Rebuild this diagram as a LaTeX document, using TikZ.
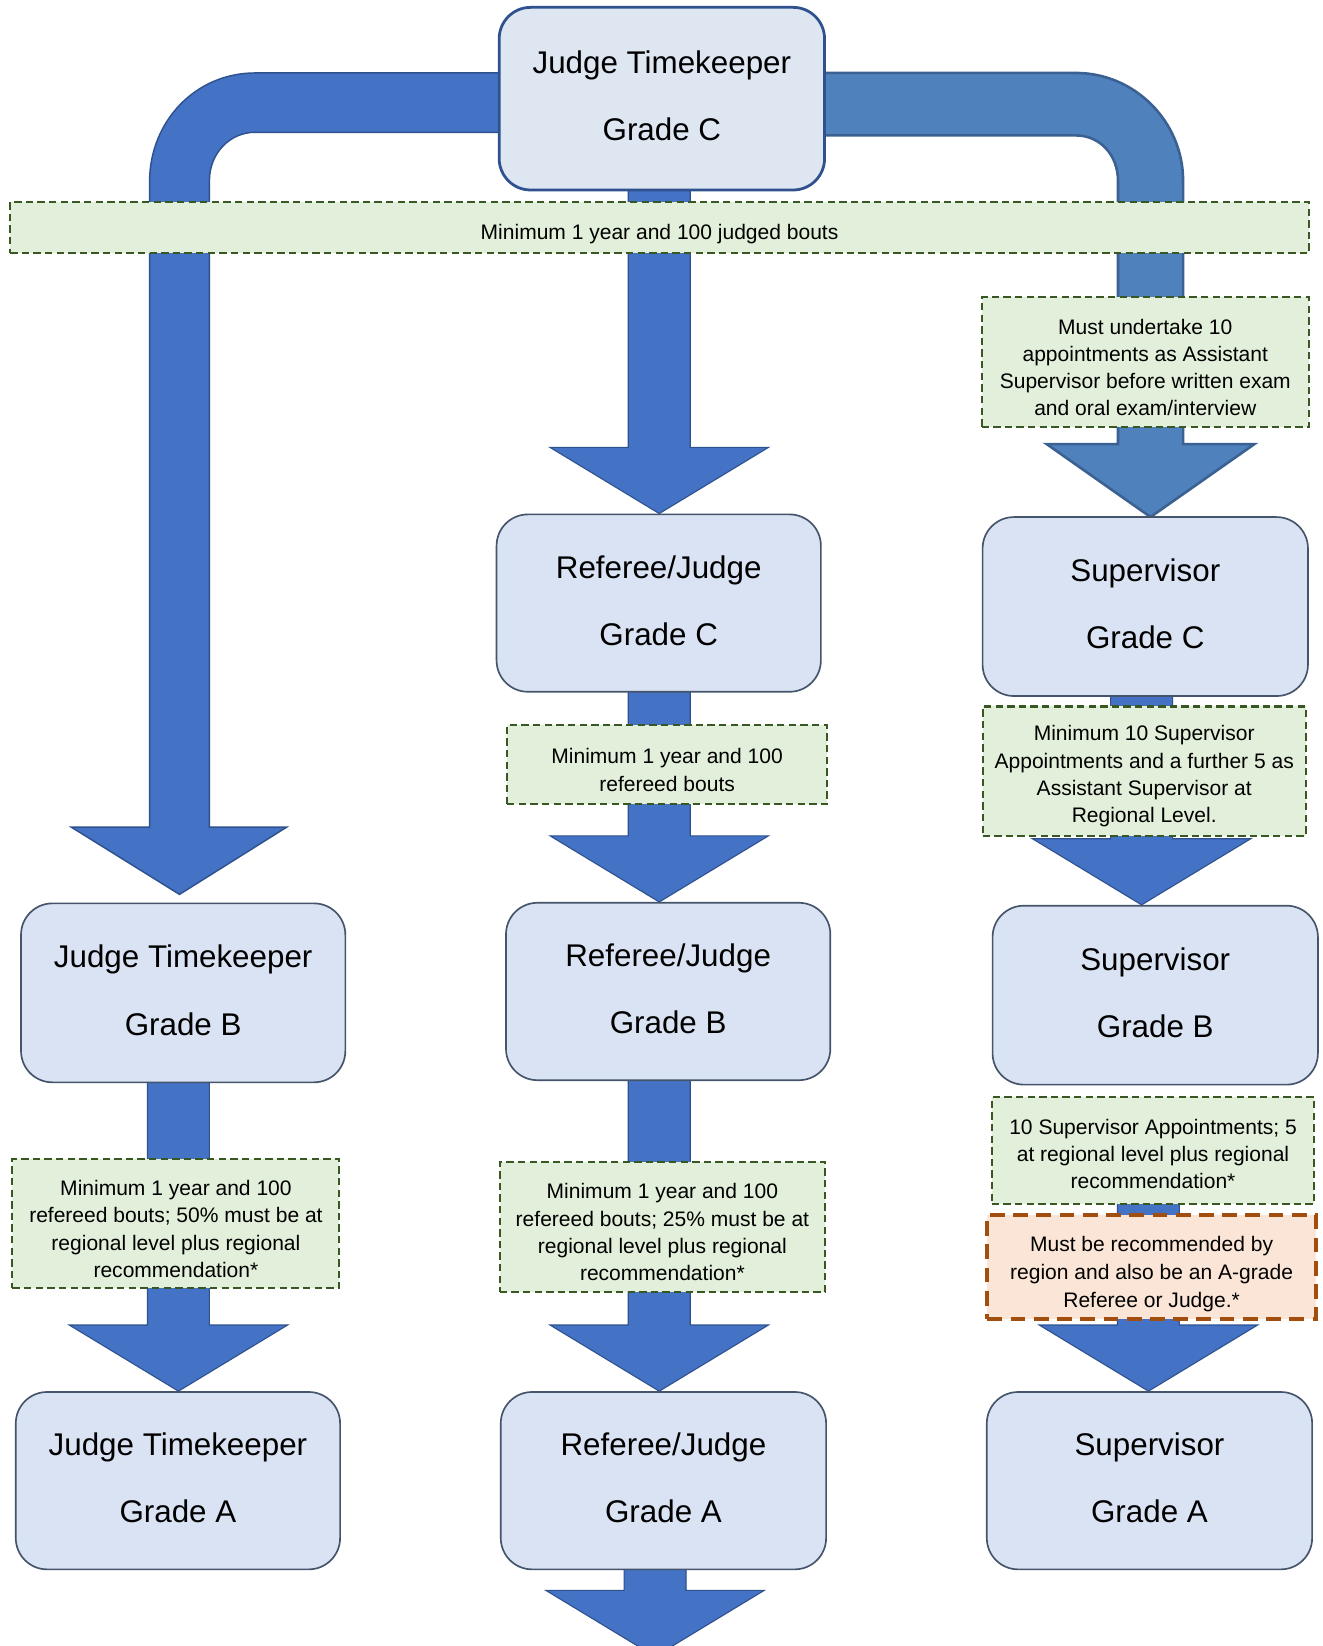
\documentclass[tikz,border=0pt]{standalone}
\usepackage{fontspec}
\setmainfont{Liberation Sans}
\usetikzlibrary{calc}

\pgfdeclarelayer{background}
\pgfsetlayers{background,main}

\definecolor{boxfill}{HTML}{DAE3F3}
\definecolor{boxline}{HTML}{44546A}
\definecolor{topfill}{HTML}{DDE6F1}
\definecolor{topline}{HTML}{2F528F}
\definecolor{arrowblue}{HTML}{4472C4}
\definecolor{arrowline}{HTML}{2F528F}
\definecolor{archblue}{HTML}{4F81BD}
\definecolor{archline}{HTML}{3B6192}
\definecolor{notefill}{HTML}{E2EFDA}
\definecolor{noteline}{HTML}{385723}
\definecolor{warnfill}{HTML}{FBE5D6}
\definecolor{warnline}{HTML}{A14E0E}

% taller first line, pushes the note text down a little
\newcommand{\lift}[1][14pt]{\rule{0pt}{#1}}

% block arrow down a column, from one node to the next
\newcommand{\blockarrow}[3]{%
  \draw [flowarrow] ($(#1 |- #2)+(-29.5,0)$) -- ($(#1 |- #3)+(-29.5,-63)$)
    -- ($(#1 |- #3)+(-104,-63)$) -- (#1 |- #3) -- ($(#1 |- #3)+(104,-63)$)
    -- ($(#1 |- #3)+(29.5,-63)$) -- ($(#1 |- #2)+(29.5,0)$) -- cycle;}

\begin{document}
\begin{tikzpicture}[x=0.02cm, y=-0.02cm,
  gradebox/.style={draw=boxline, line width=0.9pt, fill=boxfill, rounded corners=17pt,
    minimum width=6.18cm, minimum height=3.38cm, align=center, inner sep=0pt,
    font=\fontsize{17}{36.5}\selectfont, execute at end node={\rule[-3pt]{0pt}{0pt}}},
  topbox/.style={gradebox, draw=topline, line width=1.5pt, fill=topfill},
  notebox/.style={draw=noteline, fill=notefill, line width=1.1pt, dash pattern=on 4pt off 2.3pt,
    align=center, inner sep=0pt, font=\fontsize{11.4}{14.8}\selectfont},
  warnbox/.style={notebox, draw=warnline, fill=warnfill, line width=2.2pt,
    dash pattern=on 8pt off 4.6pt, font=\fontsize{11.4}{15.1}\selectfont},
  flowarrow/.style={fill=arrowblue, draw=arrowline, line width=0.6pt},
  archleft/.style={fill=arrowblue, draw=arrowline, line width=0.8pt},
  archright/.style={fill=archblue, draw=archline, line width=1.4pt}]
  \useasboundingbox (0,0) rectangle (1260,1568);

  \node (jtc) at (630.5,94) [topbox, minimum width=6.2cm, minimum height=3.48cm] {Judge Timekeeper\\Grade C};
  \node (rjc) at (627.5,574.5) [gradebox] {Referee/Judge\\Grade C};
  \node (supc) at (1091,577.8) [gradebox, minimum width=6.2cm, minimum height=3.41cm] {Supervisor\\Grade C};
  \node (jtb) at (174.5,945.8) [gradebox, minimum height=3.41cm] {Judge Timekeeper\\Grade B};
  \node (rjb) at (636.5,944.5) [gradebox] {Referee/Judge\\Grade B};
  \node (supb) at (1100.5,948) [gradebox, minimum width=6.2cm, minimum height=3.41cm] {Supervisor\\Grade B};
  \node (jta) at (169.5,1410.5) [gradebox] {Judge Timekeeper\\Grade A};
  \node (rja) at (632,1410.5) [gradebox, minimum width=6.2cm] {Referee/Judge\\Grade A};
  \node (supa) at (1095,1410.5) [gradebox, minimum width=6.2cm] {Supervisor\\Grade A};

  \node (nband) at (628.3,216.9) [notebox, minimum width=24.75cm, minimum height=0.98cm]
    {\lift[15pt]Minimum 1 year and 100 judged bouts};
  \node (nsup1) at (1091,345) [notebox, minimum width=6.24cm, minimum height=2.47cm]
    {\lift Must undertake 10\\appointments as Assistant\\Supervisor before written exam\\and oral exam/interview};
  \node (nref1) at (635.5,728.5) [notebox, minimum width=6.1cm, minimum height=1.5cm]
    {\lift Minimum 1 year and 100\\refereed bouts};
  \node (nsup2) at (1090,734.5) [notebox, minimum width=6.16cm, minimum height=2.46cm]
    {\lift Minimum 10 Supervisor\\Appointments and a further 5 as\\Assistant Supervisor at\\Regional Level.};
  \node (njt2) at (167.6,1165.7) [notebox, minimum width=6.23cm, minimum height=2.46cm]
    {\lift Minimum 1 year and 100\\refereed bouts; 50\% must be at\\regional level plus regional\\recommendation*};
  \node (nref2) at (631,1168.8) [notebox, minimum width=6.2cm, minimum height=2.48cm]
    {\lift Minimum 1 year and 100\\refereed bouts; 25\% must be at\\regional level plus regional\\recommendation*};
  \node (nsup3) at (1098.4,1096.2) [notebox, minimum width=6.15cm, minimum height=2.03cm]
    {\lift[11.6pt]10 Supervisor Appointments; 5\\at regional level plus regional\\recommendation*};
  \node (nwarn) at (1097,1207) [warnbox, minimum width=6.26cm, minimum height=1.98cm]
    {\lift[15.5pt]Must be recommended by\\region and also be an A-grade\\Referee or Judge.*};

  \coordinate (colL) at (170,0);
  \coordinate (colM) at (628,0);
  \coordinate (colMa) at (624,0);
  \coordinate (colRc) at (1087.5,0);
  \coordinate (colRb) at (1094,0);
  \coordinate (rjend) at (624,1578);

  \begin{pgfonlayer}{background}
    \fill [white] (0,0) rectangle (1260,1568);
    \draw [archleft] (630,69.5) -- (243,69.5) .. controls (186,69.5) and (142.5,116) .. (142.5,173)
      -- (142.5,788) -- (68,788) -- (171,852) -- (273,788) -- (199.5,788) -- (199.5,172)
      .. controls (199.5,146) and (219,126) .. (243,126) -- (630,126) -- cycle;
    \draw [archright] (630,69.5) -- (1025,69.5) .. controls (1081,69.5) and (1127,116) .. (1127,172)
      -- (1127,423) -- (1195,423) -- (1096,492.5) -- (997,423) -- (1065,423) -- (1065,172)
      .. controls (1065,148) and (1048,129) .. (1025,129) -- (630,129) -- cycle;
    \blockarrow{colM}{jtc}{rjc.north}
    \blockarrow{colM}{rjc}{rjb.north}
    \blockarrow{colRc}{supc}{supb.north}
    \blockarrow{colL}{jtb}{jta.north}
    \blockarrow{colM}{rjb}{rja.north}
    \blockarrow{colRb}{nsup3}{supa.north}
    \blockarrow{colMa}{rja}{rjend}
  \end{pgfonlayer}
\end{tikzpicture}
\end{document}
